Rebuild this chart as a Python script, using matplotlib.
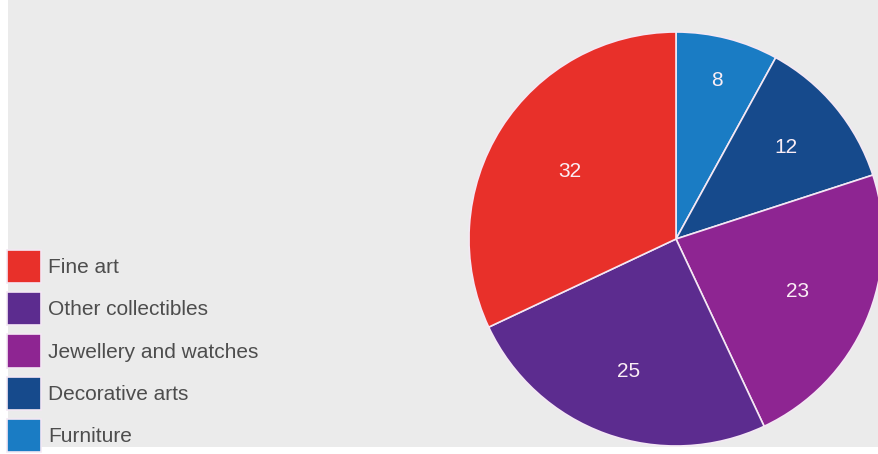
import matplotlib.pyplot as plt
from matplotlib.patches import Rectangle
import numpy as np

plt.rcParams['font.family'] = ['Liberation Sans', 'DejaVu Sans']

# pie order: from 12 o'clock, clockwise
categories = ["Furniture", "Decorative arts", "Jewellery and watches",
              "Other collectibles", "Fine art"]
values = [8, 12, 23, 25, 32]
colors = ["#1a7cc4", "#164a8c", "#8e2592", "#5c2c8f", "#e8302a"]
# how far out each number sits (fraction of radius)
label_r = [0.79, 0.69, 0.64, 0.68, 0.61]

W, H = 879, 454
fig = plt.figure(figsize=(W / 100, H / 100), dpi=100, facecolor="white")

# grey panel, white margin on left and bottom
fig.patches.append(Rectangle((8 / W, 7 / H), 1, 1, transform=fig.transFigure,
                             facecolor="#ebebeb", edgecolor="none", zorder=-5))

cx, cy, R = 676, 239, 207
ax = fig.add_axes([(cx - R) / W, (H - cy - R) / H, 2 * R / W, 2 * R / H])
ax.set_facecolor("none")
ax.set_zorder(2)

wedges, _ = ax.pie(values, colors=colors, startangle=90, counterclock=False,
                   radius=1, wedgeprops=dict(edgecolor="#f4e8f4", linewidth=1.2))
ax.set_xlim(-1, 1)
ax.set_ylim(-1, 1)
ax.set_aspect("equal")

for w, v, r in zip(wedges, values, label_r):
    ang = np.deg2rad((w.theta1 + w.theta2) / 2)
    ax.text(r * np.cos(ang), r * np.sin(ang), str(v), color="#fbeef5",
            fontsize=15, ha="center", va="center")

fs = 15
fpx = fs * 100 / 72
fig.legend(wedges[::-1], categories[::-1], loc="upper left",
           bbox_to_anchor=(7.5 / W, (H - 250) / H), bbox_transform=fig.transFigure,
           frameon=False, fontsize=fs, borderpad=0, borderaxespad=0,
           handlelength=33 / fpx, handleheight=2.08,
           handletextpad=0.38, labelspacing=8.9 / fpx, labelcolor="#4d4d4d")

fig.savefig("out.png", dpi=100, facecolor=fig.get_facecolor())
